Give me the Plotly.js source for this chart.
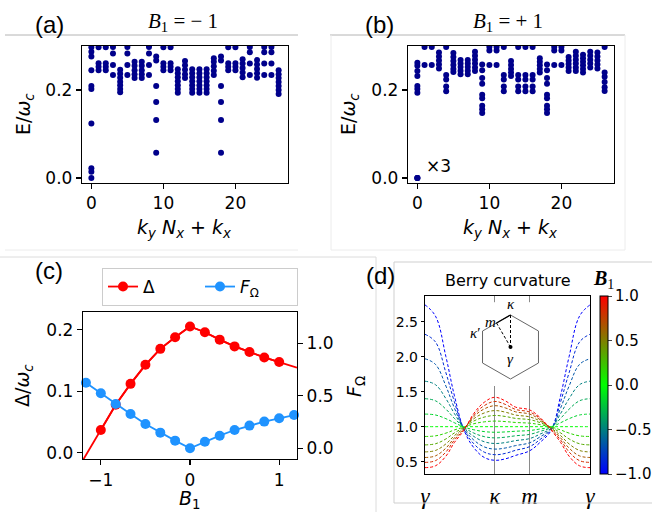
<!DOCTYPE html>
<html><head><meta charset="utf-8">
<script src="https://cdn.plot.ly/plotly-3.0.1.min.js"></script>
<style>html,body{margin:0;padding:0;background:#fff;}#plot{width:652px;height:512px;}</style>
</head><body><div id="plot"></div>
<script>
// ---------- DATA ----------
// Panel (a): spectrum at B1 = -1, energies E/omega_c per momentum index k = ky*Nx + kx
const specA = [
  [0.0, 0.014, 0.022, 0.124, 0.202, 0.209, 0.245, 0.276, 0.287, 0.297],
  [0.297, 0.261, 0.253, 0.245],
  [0.297, 0.261, 0.253, 0.245],
  [0.298, 0.283, 0.257, 0.234],
  [0.246, 0.237, 0.228, 0.219, 0.211, 0.202, 0.195],
  [0.298, 0.283, 0.257, 0.234],
  [0.264, 0.255, 0.245, 0.236, 0.227],
  [0.264, 0.255, 0.245, 0.236, 0.227],
  [0.298, 0.283, 0.257, 0.234],
  [0.276, 0.267, 0.209, 0.173, 0.132, 0.0575],
  [0.297, 0.261, 0.253, 0.245],
  [0.297, 0.261, 0.253, 0.245],
  [0.247, 0.238, 0.229, 0.220, 0.211, 0.202, 0.194],
  [0.266, 0.256, 0.246, 0.236, 0.227],
  [0.247, 0.238, 0.229, 0.220, 0.211, 0.202, 0.194],
  [0.247, 0.238, 0.229, 0.220, 0.211, 0.202, 0.194],
  [0.247, 0.238, 0.229, 0.220, 0.211, 0.202, 0.194],
  [0.272, 0.264, 0.254, 0.244, 0.234],
  [0.276, 0.267, 0.209, 0.173, 0.132, 0.0575],
  [0.297, 0.261, 0.253, 0.245],
  [0.297, 0.261, 0.253, 0.245],
  [0.270, 0.260, 0.250, 0.240, 0.229],
  [0.298, 0.286, 0.260, 0.234],
  [0.268, 0.258, 0.248, 0.238, 0.228],
  [0.298, 0.286, 0.260, 0.234],
  [0.298, 0.286, 0.260, 0.234],
  [0.245, 0.236, 0.227, 0.218, 0.209, 0.200, 0.191]
];
// Panel (b): spectrum at B1 = +1
const specB = [
  [0.0, 0.0, 0.0, 0.194, 0.202, 0.209, 0.232, 0.243, 0.255, 0.262],
  [0.298, 0.257],
  [0.298, 0.257],
  [0.285, 0.276, 0.267, 0.258, 0.249],
  [0.298, 0.234, 0.224, 0.208, 0.197],
  [0.284, 0.275, 0.266, 0.257, 0.248, 0.241],
  [0.268, 0.260, 0.252, 0.244, 0.236],
  [0.268, 0.260, 0.252, 0.244, 0.236],
  [0.287, 0.278, 0.269, 0.260, 0.251, 0.243],
  [0.258, 0.245, 0.227, 0.214, 0.189, 0.181, 0.164, 0.156, 0.148],
  [0.298, 0.290, 0.257],
  [0.298, 0.290, 0.257],
  [0.298, 0.234, 0.224, 0.208, 0.197],
  [0.266, 0.257, 0.248, 0.240, 0.232],
  [0.298, 0.234, 0.224, 0.208, 0.197],
  [0.298, 0.234, 0.224, 0.208, 0.197],
  [0.298, 0.234, 0.224, 0.208, 0.197],
  [0.272, 0.264, 0.256, 0.248, 0.240],
  [0.258, 0.245, 0.227, 0.214, 0.189, 0.181, 0.164, 0.156, 0.148],
  [0.298, 0.290, 0.257],
  [0.298, 0.290, 0.257],
  [0.275, 0.267, 0.259, 0.251, 0.243],
  [0.287, 0.278, 0.269, 0.260, 0.251, 0.243],
  [0.280, 0.272, 0.264, 0.256, 0.248, 0.240],
  [0.287, 0.278, 0.269, 0.260, 0.251],
  [0.285, 0.276, 0.267, 0.258, 0.249],
  [0.298, 0.240, 0.230, 0.218, 0.206, 0.198]
];
const specTicks = [0, 10, 20];

// Panel (c)
const b1Delta = [-1, -0.833, -0.667, -0.5, -0.333, -0.167, 0, 0.167, 0.333, 0.5, 0.667, 0.833, 1];
const delta   = [0.037, 0.078, 0.112, 0.143, 0.169, 0.188, 0.2055, 0.196, 0.184, 0.173, 0.164, 0.155, 0.1475];
const b1DeltaLine = [-1.2, -1, -0.833, -0.667, -0.5, -0.333, -0.167, 0, 0.167, 0.333, 0.5, 0.667, 0.833, 1, 1.2];
const deltaLine   = [-0.012, 0.037, 0.078, 0.112, 0.143, 0.169, 0.188, 0.2055, 0.196, 0.184, 0.173, 0.164, 0.155, 0.1475, 0.1385];
const b1F = [-1.167, -1, -0.833, -0.667, -0.5, -0.333, -0.167, 0, 0.167, 0.333, 0.5, 0.667, 0.833, 1, 1.167];
const fOmega = [0.625, 0.524, 0.422, 0.327, 0.231, 0.149, 0.073, 0.0, 0.063, 0.12, 0.174, 0.216, 0.254, 0.286, 0.317];

// Panel (d): Berry curvature along gamma-kappa-m-gamma, one curve per B1
const pathX = [0, 0.15, 0.3, 0.42, 0.56, 0.7, 0.85, 1.0, 1.15, 1.3, 1.5, 1.65, 1.81, 1.946, 2.066, 2.216, 2.366];
const pathTickVals = [0, 1, 1.5, 2.366];
const pathTickText = ['<i>γ</i>', '<i>κ</i>', '<i>m</i>', '<i>γ</i>'];
const berryB1 = [-1, -0.833, -0.667, -0.5, -0.333, -0.167, 0, 0.167, 0.333, 0.5, 0.667, 0.833, 1];
const berry = [
  [2.74, 2.58, 2.00, 1.45, 0.95, 0.70, 0.56, 0.52, 0.54, 0.59, 0.655, 0.776, 0.95, 1.45, 2.00, 2.58, 2.74],
  [2.32, 2.21, 1.77, 1.36, 0.96, 0.756, 0.636, 0.60, 0.618, 0.663, 0.715, 0.817, 0.96, 1.36, 1.77, 2.21, 2.32],
  [1.97, 1.89, 1.58, 1.27, 0.97, 0.809, 0.711, 0.68, 0.695, 0.73, 0.77, 0.855, 0.97, 1.27, 1.58, 1.89, 1.97],
  [1.65, 1.60, 1.40, 1.19, 0.98, 0.861, 0.785, 0.76, 0.773, 0.801, 0.83, 0.894, 0.98, 1.19, 1.40, 1.60, 1.65],
  [1.40, 1.37, 1.25, 1.12, 0.99, 0.909, 0.858, 0.84, 0.85, 0.87, 0.89, 0.933, 0.99, 1.12, 1.25, 1.37, 1.40],
  [1.18, 1.167, 1.114, 1.057, 0.995, 0.956, 0.93, 0.92, 0.925, 0.935, 0.945, 0.967, 0.995, 1.057, 1.114, 1.167, 1.18],
  [1.0, 1.0, 1.0, 1.0, 1.0, 1.0, 1.0, 1.0, 1.0, 1.0, 1.0, 1.0, 1.0, 1.0, 1.0, 1.0, 1.0],
  [0.86, 0.869, 0.908, 0.953, 0.995, 1.042, 1.069, 1.08, 1.073, 1.06, 1.05, 1.029, 0.995, 0.953, 0.908, 0.869, 0.86],
  [0.74, 0.756, 0.825, 0.91, 0.99, 1.081, 1.137, 1.16, 1.146, 1.118, 1.10, 1.058, 0.99, 0.91, 0.825, 0.756, 0.74],
  [0.64, 0.66, 0.754, 0.871, 0.98, 1.114, 1.196, 1.23, 1.208, 1.166, 1.14, 1.08, 0.98, 0.871, 0.754, 0.66, 0.64],
  [0.56, 0.583, 0.694, 0.838, 0.97, 1.144, 1.254, 1.30, 1.269, 1.212, 1.18, 1.10, 0.97, 0.838, 0.694, 0.583, 0.56],
  [0.49, 0.515, 0.639, 0.807, 0.96, 1.167, 1.301, 1.36, 1.319, 1.246, 1.21, 1.115, 0.96, 0.807, 0.639, 0.515, 0.49],
  [0.415, 0.441, 0.579, 0.772, 0.95, 1.189, 1.349, 1.42, 1.369, 1.279, 1.24, 1.13, 0.95, 0.772, 0.579, 0.441, 0.415]
];
// Inset: Brillouin-zone hexagon and path
const hexX = [0, 0.866, 0.866, 0, -0.866, -0.866, 0];
const hexY = [1, 0.5, -0.5, -1, -0.5, 0.5, 1];
const pts = {kappa: [0, 1], m: [-0.433, 0.75], gamma: [0, 0], kappaP: [-0.866, 0.5]};

// ---------- HELPERS ----------
const W = 652, H = 512;
const px = v => v / W, py = v => 1 - v / H;
const SANS = 'DejaVu Sans, sans-serif';
const SERIF = 'Liberation Serif, DejaVu Serif, serif';
const cmap = [[0, 'rgb(0,0,255)'], [0.5, 'rgb(0,255,0)'], [1, 'rgb(255,0,0)']];
function colorOf(b) {
  const t = (b + 1) / 2;
  let r, g, bl;
  if (t < 0.5) { r = 0; g = 255 * 2 * t; bl = 255 * (1 - 2 * t); }
  else { r = 255 * (2 * t - 1); g = 255 * (2 - 2 * t); bl = 0; }
  return `rgb(${Math.round(r)},${Math.round(g)},${Math.round(bl)})`;
}
function flatten(spec) {
  const x = [], y = [];
  spec.forEach((col, k) => col.forEach(e => { x.push(k); y.push(e); }));
  return {x, y};
}

const traces = [];
const fa = flatten(specA), fb = flatten(specB);
traces.push({x: fa.x, y: fa.y, xaxis: 'x', yaxis: 'y', type: 'scatter', mode: 'markers',
  marker: {color: '#00008b', size: 6}, showlegend: false, hoverinfo: 'skip'});
traces.push({x: fb.x, y: fb.y, xaxis: 'x2', yaxis: 'y2', type: 'scatter', mode: 'markers',
  marker: {color: '#00008b', size: 6}, showlegend: false, hoverinfo: 'skip'});

// Panel (c)
traces.push({x: b1DeltaLine, y: deltaLine, xaxis: 'x3', yaxis: 'y3', mode: 'lines',
  line: {color: '#ff0000', width: 1.8}, showlegend: false});
traces.push({x: b1Delta, y: delta, xaxis: 'x3', yaxis: 'y3', mode: 'lines+markers', name: 'Δ',
  line: {color: '#ff0000', width: 1.8}, marker: {color: '#ff0000', size: 10}});
traces.push({x: b1F, y: fOmega, xaxis: 'x3', yaxis: 'y6', mode: 'lines+markers', name: '<i>F</i><sub>Ω</sub>',
  line: {color: '#1f93ff', width: 1.8}, marker: {color: '#1f93ff', size: 10}, cliponaxis: false});

// Panel (d)
berry.forEach((row, i) => {
  traces.push({x: pathX, y: row, xaxis: 'x4', yaxis: 'y4', mode: 'lines',
    line: {color: colorOf(berryB1[i]), width: 1, dash: '3px,2px', shape: 'spline', smoothing: 1.1},
    showlegend: false, hoverinfo: 'skip'});
});
// colorbar carrier
traces.push({x: [-10, -10], y: [-10, -10], xaxis: 'x4', yaxis: 'y4', mode: 'markers', showlegend: false,
  marker: {color: [-1, 1], cmin: -1, cmax: 1, colorscale: cmap, showscale: true, size: 1,
    colorbar: {x: px(600), xanchor: 'left', y: py(385), yanchor: 'middle', len: 178, lenmode: 'pixels',
      thickness: 8, xpad: 0, ypad: 0, outlinewidth: 1, outlinecolor: '#000',
      tickvals: [-1, -0.5, 0, 0.5, 1], tickformat: '.1f', ticks: 'outside', ticklen: 4,
      tickfont: {family: SANS, size: 15, color: '#000'}}}});
// inset
traces.push({x: hexX, y: hexY, xaxis: 'x5', yaxis: 'y5', mode: 'lines', line: {color: '#666', width: 1},
  showlegend: false, hoverinfo: 'skip'});
traces.push({x: [pts.kappa[0], pts.gamma[0], null, pts.m[0], pts.gamma[0]],
  y: [pts.kappa[1], pts.gamma[1], null, pts.m[1], pts.gamma[1]], xaxis: 'x5', yaxis: 'y5', mode: 'lines',
  line: {color: '#000', width: 1, dash: '3px,2px'}, showlegend: false, hoverinfo: 'skip'});
traces.push({x: [pts.kappa[0], pts.m[0]], y: [pts.kappa[1], pts.m[1]], xaxis: 'x5', yaxis: 'y5', mode: 'lines',
  line: {color: '#000', width: 1.2}, showlegend: false, hoverinfo: 'skip'});
traces.push({x: [pts.gamma[0]], y: [pts.gamma[1]], xaxis: 'x5', yaxis: 'y5', mode: 'markers',
  marker: {color: '#000', size: 4}, showlegend: false, hoverinfo: 'skip'});

// ---------- LAYOUT ----------
const tickFont = {family: SANS, size: 17, color: '#000'};
function axBase(extra) {
  return Object.assign({showline: true, linecolor: '#000', linewidth: 1.2, mirror: true, ticks: 'outside',
    ticklen: 5, tickwidth: 1.2, tickcolor: '#000', showgrid: false, zeroline: false, tickfont: tickFont,
    fixedrange: true}, extra);
}
const layout = {
  width: W, height: H, margin: {l: 0, r: 0, t: 0, b: 0}, paper_bgcolor: '#fff', plot_bgcolor: '#fff',
  showlegend: true,
  legend: {orientation: 'h', x: px(102), y: py(268), xanchor: 'left', yanchor: 'top',
    bordercolor: '#cccccc', borderwidth: 1, bgcolor: '#fff', font: {family: SANS, size: 17, color: '#000'},
    entrywidth: 52, entrywidthmode: 'pixels', tracegroupgap: 0},
  xaxis: axBase({domain: [px(82), px(288)], range: [-1.3, 27.3], tickvals: specTicks, anchor: 'y'}),
  yaxis: axBase({domain: [py(182.5), py(46)], range: [-0.0102, 0.3], tickvals: [0, 0.2], tickformat: '.1f', anchor: 'x'}),
  xaxis2: axBase({domain: [px(408), px(614)], range: [-1.3, 27.3], tickvals: specTicks, anchor: 'y2'}),
  yaxis2: axBase({domain: [py(182.5), py(46)], range: [-0.0102, 0.3], tickvals: [0, 0.2], tickformat: '.1f', anchor: 'x2'}),
  xaxis3: axBase({domain: [px(83), px(297)], range: [-1.2, 1.2], tickvals: [-1, 0, 1], anchor: 'y3'}),
  yaxis3: axBase({domain: [py(459), py(312)], range: [-0.0103, 0.229], tickvals: [0, 0.1, 0.2], tickformat: '.1f',
    anchor: 'x3', mirror: false}),
  yaxis6: axBase({overlaying: 'y3', side: 'right', anchor: 'x3', range: [-0.102, 1.298], tickvals: [0, 0.5, 1],
    tickformat: '.1f', mirror: false}),
  xaxis4: axBase({domain: [px(425), px(590)], range: [0, 2.366], tickvals: pathTickVals, ticktext: pathTickText,
    anchor: 'y4', showgrid: true, gridcolor: '#8a8a8a', gridwidth: 1, ticklen: 1, tickcolor: 'rgba(0,0,0,0)',
    tickfont: {family: SERIF, size: 23, color: '#000'}}),
  yaxis4: axBase({domain: [py(474), py(296)], range: [0.324, 2.867], tickvals: [0.5, 1, 1.5, 2, 2.5],
    tickformat: '.1f', anchor: 'x4', ticklen: 3, tickfont: {family: SANS, size: 14, color: '#000'}}),
  xaxis5: {domain: [px(468.5), px(552.5)], range: [-1.3, 1.3], visible: false, anchor: 'y5', fixedrange: true},
  yaxis5: {domain: [py(385.4), py(302.2)], range: [-1.2, 1.4], visible: false, anchor: 'x5', fixedrange: true},
  shapes: [],
  annotations: []
};
// inset background (hides the gridlines behind the inset)
layout.shapes.push({type: 'rect', xref: 'x4', yref: 'y4', x0: 0.72, x1: 1.78, y0: 1.58, y1: 2.68,
  fillcolor: '#fff', line: {width: 0}, layer: 'between'});
// figure frame lines
function seg(x0, y0, x1, y1, c) {
  layout.shapes.push({type: 'line', xref: 'paper', yref: 'paper', x0: px(x0), y0: py(y0), x1: px(x1), y1: py(y1),
    line: {color: c, width: 1}});
}
seg(5, 35, 298, 35, '#b4b4b4');
seg(330, 35, 625, 35, '#b4b4b4');
seg(331, 35, 331, 250, '#ececec');
seg(625, 35, 625, 250, '#ececec');
seg(331, 250, 625, 250, '#ececec');
seg(5, 250, 298, 250, '#ececec');
seg(0, 257, 376, 257, '#dcdcdc');
seg(376, 257, 376, 512, '#dcdcdc');
seg(394, 262, 652, 262, '#cfcfcf');
seg(394, 262, 394, 503, '#cfcfcf');
seg(394, 503, 652, 503, '#cfcfcf');

function ann(text, x, y, font, extra) {
  layout.annotations.push(Object.assign({text, x: px(x), y: py(y), xref: 'paper', yref: 'paper',
    showarrow: false, xanchor: 'center', yanchor: 'middle', font}, extra || {}));
}
const lab = {family: 'Liberation Sans, Arial, sans-serif', size: 24, color: '#000'};
const axT = {family: SANS, size: 19, color: '#000'};
const ttl = {family: SERIF, size: 21, color: '#000'};
ann('(a)', 49, 24, lab);
ann('(b)', 379, 24, lab);
ann('(c)', 49, 270, lab);
ann('(d)', 380, 275, lab);
ann('<i>B</i><sub>1</sub> = − 1', 183, 22, ttl);
ann('<i>B</i><sub>1</sub> = + 1', 508, 22, ttl);
ann('E/<i>ω</i><sub><i>c</i></sub>', 24, 114, axT, {textangle: -90});
ann('E/<i>ω</i><sub><i>c</i></sub>', 349, 114, axT, {textangle: -90});
ann('<i>k<sub>y</sub> N<sub>x</sub></i> + <i>k<sub>x</sub></i>', 184, 228, axT);
ann('<i>k<sub>y</sub> N<sub>x</sub></i> + <i>k<sub>x</sub></i>', 510, 228, axT);
ann('×3', 438, 166, {family: SANS, size: 17, color: '#000'});
ann('Δ/<i>ω</i><sub><i>c</i></sub>', 23, 386, axT, {textangle: -90});
ann('<i>F</i><sub>Ω</sub>', 355, 387, axT, {textangle: -90});
ann('<i>B</i><sub>1</sub>', 190, 499, axT);
ann('Berry curvature', 508, 280, {family: SANS, size: 16, color: '#000'});
ann('<b><i>B</i></b><sub>1</sub>', 603, 279, {family: SERIF, size: 20, color: '#000'});
// inset labels
const insF = {family: SERIF, size: 15, color: '#000'};
function iann(text, x, y, xa, ya) {
  layout.annotations.push({text, x, y, xref: 'x5', yref: 'y5', showarrow: false, xanchor: xa, yanchor: ya,
    font: insF});
}
iann('<i>κ</i>', pts.kappa[0], pts.kappa[1] + 0.02, 'center', 'bottom');
iann('<i>m</i>', pts.m[0] + 0.05, pts.m[1] + 0.02, 'right', 'middle');
iann('<i>κ</i>′', pts.kappaP[0] - 0.02, pts.kappaP[1] - 0.05, 'right', 'middle');
iann('<i>γ</i>', pts.gamma[0], pts.gamma[1] - 0.05, 'center', 'top');

Plotly.newPlot('plot', traces, layout, {staticPlot: true, displayModeBar: false});
</script></body></html>
